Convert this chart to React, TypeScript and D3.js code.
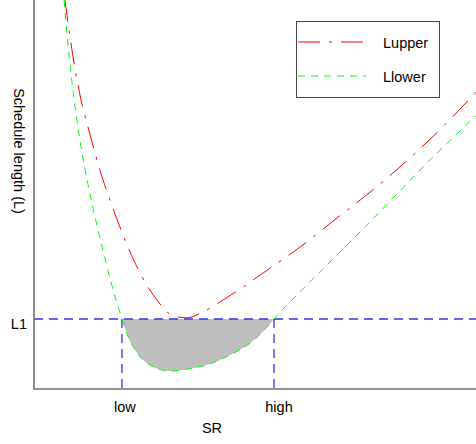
import React, { useRef, useEffect } from "react";
import * as d3 from "d3";

const width = 476;
const height = 444;
const plot = { left: 34, right: 476, top: 0, bottom: 389 };

// SR vs L in arbitrary units
const lowerSR = [0.68, 0.77, 0.88, 1.04, 1.27, 1.56, 1.76, 1.99, 2.13, 2.33, 2.62, 3.08, 3.46, 3.91, 4.43, 4.89, 5.27, 5.43, 5.95, 6.63, 7.44, 8.21, 8.96, 9.71, 10.0];
const lowerL = [10.0, 8.84, 7.69, 6.4, 4.99, 3.57, 2.67, 1.8, 1.34, 0.93, 0.62, 0.46, 0.51, 0.62, 0.87, 1.18, 1.59, 1.8, 2.42, 3.19, 4.11, 5.01, 5.89, 6.71, 7.02];
const upperSR = [0.7, 0.86, 1.04, 1.27, 1.49, 1.76, 2.06, 2.4, 2.78, 3.12, 3.46, 3.82, 4.28, 4.73, 5.18, 6.02, 6.86, 7.67, 8.46, 9.25, 10.0];
const upperL = [10.0, 8.71, 7.56, 6.53, 5.63, 4.73, 3.83, 2.98, 2.29, 1.9, 1.83, 1.98, 2.29, 2.62, 2.98, 3.65, 4.4, 5.12, 5.89, 6.74, 7.63];

const L1 = 1.8;
const lowSR = 1.99;
const highSR = 5.43;

const xTicks = [
  { label: "low", value: lowSR, dx: 3 },
  { label: "high", value: highSR, dx: 5 },
];
const legendItems = [
  { label: "Lupper", color: "#ff0000", dash: "22,9,3,9" },
  { label: "Llower", color: "#00ff00", dash: "7,6" },
];

const font = "'Liberation Sans', Arial, sans-serif";

function draw(el) {
  const svg = d3.select(el);
  svg.selectAll("*").remove();

  const x = d3.scaleLinear().domain([0, 10]).range([plot.left, plot.right]);
  const y = d3.scaleLinear().domain([0, 10]).range([plot.bottom, plot.top]);

  const lower = lowerSR.map((s, i) => ({ s, l: lowerL[i] }));
  const upper = upperSR.map((s, i) => ({ s, l: upperL[i] }));

  svg.append("defs")
    .append("clipPath")
    .attr("id", "plotclip")
    .append("rect")
    .attr("x", plot.left)
    .attr("y", plot.top)
    .attr("width", plot.right - plot.left)
    .attr("height", plot.bottom - plot.top);

  const g = svg.append("g").attr("clip-path", "url(#plotclip)");

  // shaded region between L1 and the lower curve
  const shade = lower.filter((d) => d.s >= lowSR && d.s <= highSR);
  const area = d3.area()
    .x((d) => x(d.s))
    .y0(y(L1))
    .y1((d) => y(d.l))
    .curve(d3.curveMonotoneX);
  g.append("path").attr("d", area(shade)).attr("fill", "#bebebe");

  const line = d3.line()
    .x((d) => x(d.s))
    .y((d) => y(d.l))
    .curve(d3.curveMonotoneX);

  // blue guides
  const guides = g.append("g")
    .attr("stroke", "#3030ff")
    .attr("stroke-width", 1.3)
    .attr("stroke-dasharray", "9,6")
    .attr("fill", "none");
  guides.append("line")
    .attr("x1", x(0)).attr("x2", x(10))
    .attr("y1", y(L1)).attr("y2", y(L1));
  [lowSR, highSR].forEach((v) => {
    guides.append("line")
      .attr("x1", x(v)).attr("x2", x(v))
      .attr("y1", y(L1)).attr("y2", y(0));
  });

  g.append("path")
    .attr("d", line(upper))
    .attr("fill", "none")
    .attr("stroke", legendItems[0].color)
    .attr("stroke-width", 1)
    .attr("stroke-dasharray", legendItems[0].dash);

  g.append("path")
    .attr("d", line(lower))
    .attr("fill", "none")
    .attr("stroke", legendItems[1].color)
    .attr("stroke-width", 1)
    .attr("stroke-dasharray", legendItems[1].dash);

  // axes (no ticks)
  svg.append("path")
    .attr("d", `M${plot.left},${plot.top}V${plot.bottom}H${plot.right}`)
    .attr("fill", "none")
    .attr("stroke", "#707070")
    .attr("stroke-width", 1.6);

  const txt = svg.append("g")
    .attr("font-family", font)
    .attr("font-size", 14.5)
    .attr("fill", "#000");

  xTicks.forEach((t) => {
    txt.append("text")
      .attr("x", x(t.value) + t.dx)
      .attr("y", 412)
      .attr("text-anchor", "middle")
      .text(t.label);
  });
  txt.append("text")
    .attr("x", 212)
    .attr("y", 433)
    .attr("text-anchor", "middle")
    .text("SR");
  txt.append("text")
    .attr("x", 27)
    .attr("y", y(L1) + 10)
    .attr("text-anchor", "end")
    .text("L1");
  txt.append("text")
    .attr("transform", "translate(14,151) rotate(90)")
    .attr("text-anchor", "middle")
    .text("Schedule length (L)");

  // legend
  const lg = svg.append("g");
  lg.append("rect")
    .attr("x", 296.5).attr("y", 21.5)
    .attr("width", 143).attr("height", 76)
    .attr("fill", "#fff")
    .attr("stroke", "#444")
    .attr("stroke-width", 1);
  legendItems.forEach((it, i) => {
    const yy = 42 + i * 34;
    lg.append("line")
      .attr("x1", 298).attr("x2", 366)
      .attr("y1", yy).attr("y2", yy)
      .attr("stroke", it.color)
      .attr("stroke-width", 1)
      .attr("stroke-dasharray", it.dash);
    lg.append("text")
      .attr("x", 383)
      .attr("y", yy + 6)
      .attr("font-family", font)
      .attr("font-size", 14.5)
      .text(it.label);
  });
}

export default function App() {
  const ref = useRef(null);
  useEffect(() => {
    if (ref.current) draw(ref.current);
  }, []);
  return (
    <svg
      ref={ref}
      width={width}
      height={height}
      style={{ position: "absolute", left: 0, top: 0, display: "block", background: "#fff" }}
    />
  );
}
